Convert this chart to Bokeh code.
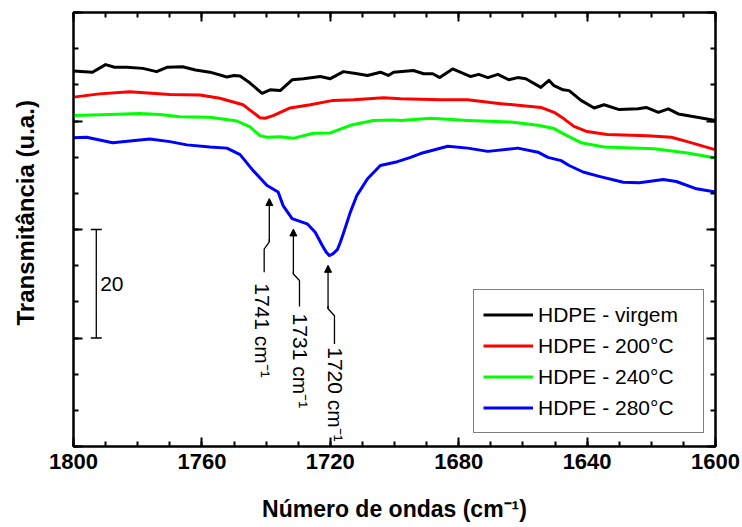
import numpy as np
from bokeh.plotting import figure
from bokeh.models import (Range1d, LinearAxis, FixedTicker, Legend, LegendItem,
                          Arrow, NormalHead, Whisker, TeeHead, ColumnDataSource,
                          CustomJSTickFormatter)
from bokeh.core.properties import value
from bokeh.embed import file_html
from bokeh.resources import INLINE

# ---------------- data ----------------
wn_virgem = [1800, 1794.1, 1790.0, 1787.2, 1783.4, 1778.4, 1774.1, 1770.9, 1766.0, 1762.0,
             1757.5, 1752.2, 1750.0, 1748.1, 1745.0, 1741.25, 1738.75, 1735.6, 1731.9, 1728.4,
             1723.1, 1720.0, 1715.9, 1711.6, 1708.4, 1704.4, 1701.9, 1700.3, 1694.1, 1690.9,
             1688.1, 1685.9, 1681.9, 1676.25, 1673.75, 1670.9, 1667.8, 1664.4, 1661.6, 1659.1,
             1654.4, 1651.9, 1650.3, 1647.5, 1645.6, 1641.9, 1637.8, 1634.7, 1630.0, 1624.1,
             1621.6, 1617.8, 1614.7, 1611.6, 1606.6, 1600]
t_virgem = [69.2, 69.0, 70.4, 69.9, 69.9, 69.7, 69.1, 69.9, 70.0, 69.4,
            69.0, 68.1, 68.4, 68.3, 67.0, 65.1, 65.75, 65.6, 67.6, 67.8,
            68.2, 67.8, 69.1, 68.7, 68.4, 69.0, 68.4, 69.0, 69.3, 68.7,
            68.7, 68.0, 69.6, 68.2, 68.6, 68.0, 68.6, 67.6, 68.0, 67.8,
            66.2, 67.5, 66.5, 65.75, 65.6, 63.8, 62.4, 63.0, 62.1, 62.25,
            62.5, 61.6, 62.25, 61.3, 60.8, 60.1]

wn_200 = [1800, 1791.9, 1782.5, 1770.0, 1760.6, 1754.4, 1747.2, 1744.1, 1741.9, 1740.3,
          1737.8, 1732.5, 1726.25, 1719.1, 1712.8, 1703.4, 1698.1, 1685.6, 1677.2, 1666.9,
          1654.4, 1650.3, 1647.2, 1644.1, 1640.0, 1633.75, 1621.25, 1613.75, 1608.75, 1601.25, 1600]
t_200 = [64.4, 65.0, 65.4, 64.9, 64.8, 64.2, 63.0, 61.6, 60.6, 60.5,
         61.0, 62.4, 63.0, 63.8, 63.9, 64.3, 64.1, 63.9, 63.9, 63.2,
         62.5, 61.6, 60.4, 59.0, 58.05, 57.5, 57.3, 57.0, 56.2, 54.9, 54.7]

wn_240 = [1800, 1788.75, 1779.4, 1773.1, 1766.9, 1757.5, 1749.1, 1745.0, 1741.9, 1739.7,
          1735.6, 1731.6, 1725.3, 1720.0, 1713.75, 1706.6, 1700.3, 1698.1, 1688.75, 1677.2,
          1663.75, 1655.3, 1650.3, 1646.25, 1641.9, 1634.7, 1619.1, 1608.75, 1601.25, 1600]
t_240 = [61.0, 61.2, 61.4, 61.2, 60.8, 60.7, 60.0, 58.9, 57.3, 57.0,
         57.1, 56.8, 57.75, 57.8, 59.2, 60.1, 60.2, 60.1, 60.5, 60.1,
         59.8, 59.2, 58.6, 57.3, 56.0, 55.2, 54.9, 54.1, 53.3, 53.2]

wn_280 = [1800, 1795.9, 1787.8, 1776.25, 1770.0, 1764.7, 1757.5, 1752.2, 1748.1, 1744.1,
          1739.7, 1736.25, 1734.7, 1731.9, 1727.2, 1724.7, 1722.5, 1721.25, 1720.3, 1719.2,
          1717.8, 1716.9, 1715.8, 1713.75, 1711.7, 1708.4, 1704.4, 1699.1, 1695.0, 1691.9,
          1683.4, 1677.2, 1670.9, 1661.6, 1655.3, 1652.2, 1648.1, 1645.6, 1641.25, 1636.25,
          1628.75, 1623.75, 1616.25, 1612.2, 1605.9, 1600]
t_280 = [56.9, 57.0, 56.0, 56.7, 56.2, 55.6, 55.2, 55.0, 53.8, 50.9,
         48.1, 46.9, 44.4, 42.0, 41.05, 39.5, 37.05, 35.8, 35.2, 35.5,
         36.3, 37.6, 39.5, 43.2, 46.3, 49.35, 51.8, 52.5, 53.3, 54.0,
         55.35, 55.0, 54.4, 55.0, 54.25, 53.3, 52.7, 51.8, 50.6, 49.8,
         48.7, 48.6, 49.2, 48.85, 47.5, 46.9]

series_labels = ["HDPE - virgem", "HDPE - 200°C", "HDPE - 240°C", "HDPE - 280°C"]
series_colors = ["#000000", "#ff0000", "#00ff00", "#0000ff"]

peak_labels = ["1741 cm⁻¹", "1731 cm⁻¹", "1720 cm⁻¹"]
x_major_ticks = [1800, 1760, 1720, 1680, 1640, 1600]
y_major_ticks = [0, 20, 40, 60, 80]
scale_bar = [20, 40]

FONT = "Liberation Sans"

# ---------------- figure ----------------
p = figure(width=740, height=525, x_range=Range1d(1800, 1600), y_range=Range1d(0, 80),
           output_backend="svg", toolbar_location=None,
           min_border_left=73, min_border_right=25, min_border_top=12, min_border_bottom=79)
p.xgrid.visible = False
p.ygrid.visible = False
p.outline_line_color = "black"
p.outline_line_width = 2
p.background_fill_color = "white"
p.border_fill_color = "white"

x_ticker = FixedTicker(ticks=x_major_ticks, minor_ticks=list(range(1600, 1801, 10)))
y_ticker = FixedTicker(ticks=y_major_ticks, minor_ticks=[i * 20 / 3 for i in range(13)])


def style_axis(ax):
    ax.axis_line_width = 2
    ax.axis_line_color = "black"
    ax.major_tick_in = 9
    ax.major_tick_out = 0
    ax.minor_tick_in = 5
    ax.minor_tick_out = 0
    ax.major_tick_line_width = 2
    ax.minor_tick_line_width = 2
    ax.major_tick_line_color = "black"
    ax.minor_tick_line_color = "black"


def blank_labels(ax):
    ax.formatter = CustomJSTickFormatter(code="return ''")
    ax.major_label_text_font_size = "1px"
    ax.major_label_standoff = 0


xa = p.xaxis[0]
xa.ticker = x_ticker
style_axis(xa)
xa.major_label_text_font = FONT
xa.major_label_text_font_style = "bold"
xa.major_label_text_font_size = "22px"
xa.major_label_text_color = "black"
xa.major_label_standoff = 7
xa.axis_label = "Número de ondas (cm⁻¹)"
xa.axis_label_text_font = FONT
xa.axis_label_text_font_style = "bold"
xa.axis_label_text_font_size = "23px"
xa.axis_label_text_color = "black"
xa.axis_label_standoff = 24

ya = p.yaxis[0]
ya.ticker = y_ticker
style_axis(ya)
blank_labels(ya)
ya.axis_label = "\u00a0" * 5 + "Transmitância (u.a.)"
ya.axis_label_text_font = FONT
ya.axis_label_text_font_style = "bold"
ya.axis_label_text_font_size = "24px"
ya.axis_label_text_color = "black"
ya.axis_label_standoff = 35

top = LinearAxis(ticker=x_ticker)
style_axis(top)
blank_labels(top)
p.add_layout(top, "above")
right = LinearAxis(ticker=y_ticker)
style_axis(right)
blank_labels(right)
p.add_layout(right, "right")

# ---------------- annotations: arrows ----------------
arrow_x = [1739.0, 1731.5, 1720.7]
arrow_tip = [45.7, 40.1, 33.4]
knee1_y = [37.7, 31.8, 25.4]
jog_x = [1740.6, 1729.6, 1718.7]
knee2_y = [36.4, 30.6, 24.1]
end_y = [32.1, 25.8, 18.9]
text_x = [1741.1, 1729.4, 1718.5]
text_y = [30.1, 24.5, 18.3]

p.multi_line(xs=[[a, a, j, j] for a, j in zip(arrow_x, jog_x)],
             ys=[[k1 + 0.5, k1, k2, e] for k1, k2, e in zip(knee1_y, knee2_y, end_y)],
             line_color="black", line_width=1.3)
for a, tip, k1 in zip(arrow_x, arrow_tip, knee1_y):
    p.add_layout(Arrow(x_start=a, y_start=k1, x_end=a, y_end=tip, line_width=1.3,
                       line_color="black",
                       end=NormalHead(size=7, fill_color="black", line_color="black", line_width=1)))

p.text(x=text_x, y=text_y, text=peak_labels, angle=-np.pi / 2,
       text_align="left", text_baseline="middle", text_font=value(FONT),
       text_font_size="21px", text_color="black")

# ---------------- scale bar ----------------
sb_src = ColumnDataSource(dict(base=[1792.9], lower=[scale_bar[0]], upper=[scale_bar[1]]))
p.add_layout(Whisker(source=sb_src, base="base", lower="lower", upper="upper", dimension="height",
                     line_width=1.3, line_color="black",
                     upper_head=TeeHead(size=11, line_width=1.3, line_color="black"),
                     lower_head=TeeHead(size=11, line_width=1.3, line_color="black")))
p.text(x=[1791.7], y=[(scale_bar[0] + scale_bar[1]) / 2], text=[str(scale_bar[1] - scale_bar[0])],
       text_align="left", text_baseline="middle", text_font=value(FONT),
       text_font_size="21px", text_color="black")

# ---------------- curves ----------------
renderers = []
for wn, tv, col in zip([wn_virgem, wn_200, wn_240, wn_280], [t_virgem, t_200, t_240, t_280],
                       series_colors):
    r = p.line(wn, tv, line_color=col, line_width=3, line_join="round")
    renderers.append(r)

legend = Legend(items=[LegendItem(label=l, renderers=[r]) for l, r in zip(series_labels, renderers)],
                location=(400, 13), padding=9, spacing=0, margin=0,
                glyph_width=50, glyph_height=31, label_height=31, label_width=156,
                label_standoff=5, label_text_font=FONT, label_text_font_size="21px",
                label_text_color="black", border_line_color="black", border_line_width=1,
                background_fill_color="white", background_fill_alpha=1)
p.add_layout(legend)

open("out.html", "w").write(file_html(p, INLINE))
